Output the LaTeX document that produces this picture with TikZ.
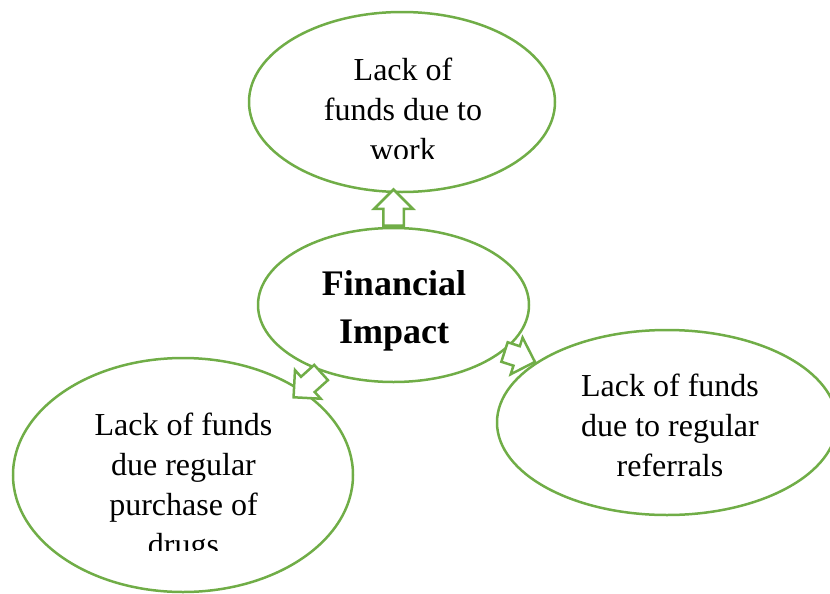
\documentclass[tikz,border=0pt]{standalone}
\usepackage{fontspec}
\setmainfont{Liberation Serif}
\usetikzlibrary{shapes.geometric,shapes.arrows}
\definecolor{gg}{RGB}{112, 173, 71}

\begin{document}
\begin{tikzpicture}[x=0.5pt, y=-0.5pt,
  oval/.style={ellipse, draw=gg, line width=1.25pt, inner sep=0pt},
  txt/.style={inner sep=0pt, align=center, anchor=north, font=\fontsize{16}{20}\selectfont},
  barrow/.style={single arrow, draw=gg, fill=white, line width=1.25pt, inner xsep=0pt, inner ysep=4.5pt, single arrow head extend=4.5pt, minimum width=0pt, anchor=tail}]
\useasboundingbox (0,0) rectangle (830,594);
% ovals
\node (top) [oval, minimum width=153pt, minimum height=90pt] at (402,102) {};
\node (mid) [oval, minimum width=135.5pt, minimum height=77pt] at (393.5,305) {};
\node (left) [oval, minimum width=170pt, minimum height=117pt] at (183,475) {};
\node (right) [oval, minimum width=170pt, minimum height=92.5pt] at (667,422.5) {};
% block arrows
\node (upArr) [barrow, rotate=90, minimum height=18pt] at (mid.north) {};
\node (leftArr) [barrow, rotate=222, minimum height=18.5pt] at (mid.223) {};
\node (rightArr) [barrow, rotate=-18, minimum height=16pt] at (mid.337) {};
% texts
\node (midTxt) [txt, font=\fontsize{18}{24}\selectfont\bfseries] at (394,270) {Financial\\Impact};
\node (rightTxt) [txt] at (670,374) {Lack of funds\\due to regular\\referrals};
\begin{scope}
\clip (300,40) rectangle (510,158);
\node (topTxt) [txt] at (403,58) {Lack of\\funds due to\\work};
\end{scope}
\begin{scope}
\clip (60,400) rectangle (310,550);
\node (leftTxt) [txt] at (183.5,413) {Lack of funds\\due regular\\purchase of\\drugs};
\end{scope}
\end{tikzpicture}
\end{document}
